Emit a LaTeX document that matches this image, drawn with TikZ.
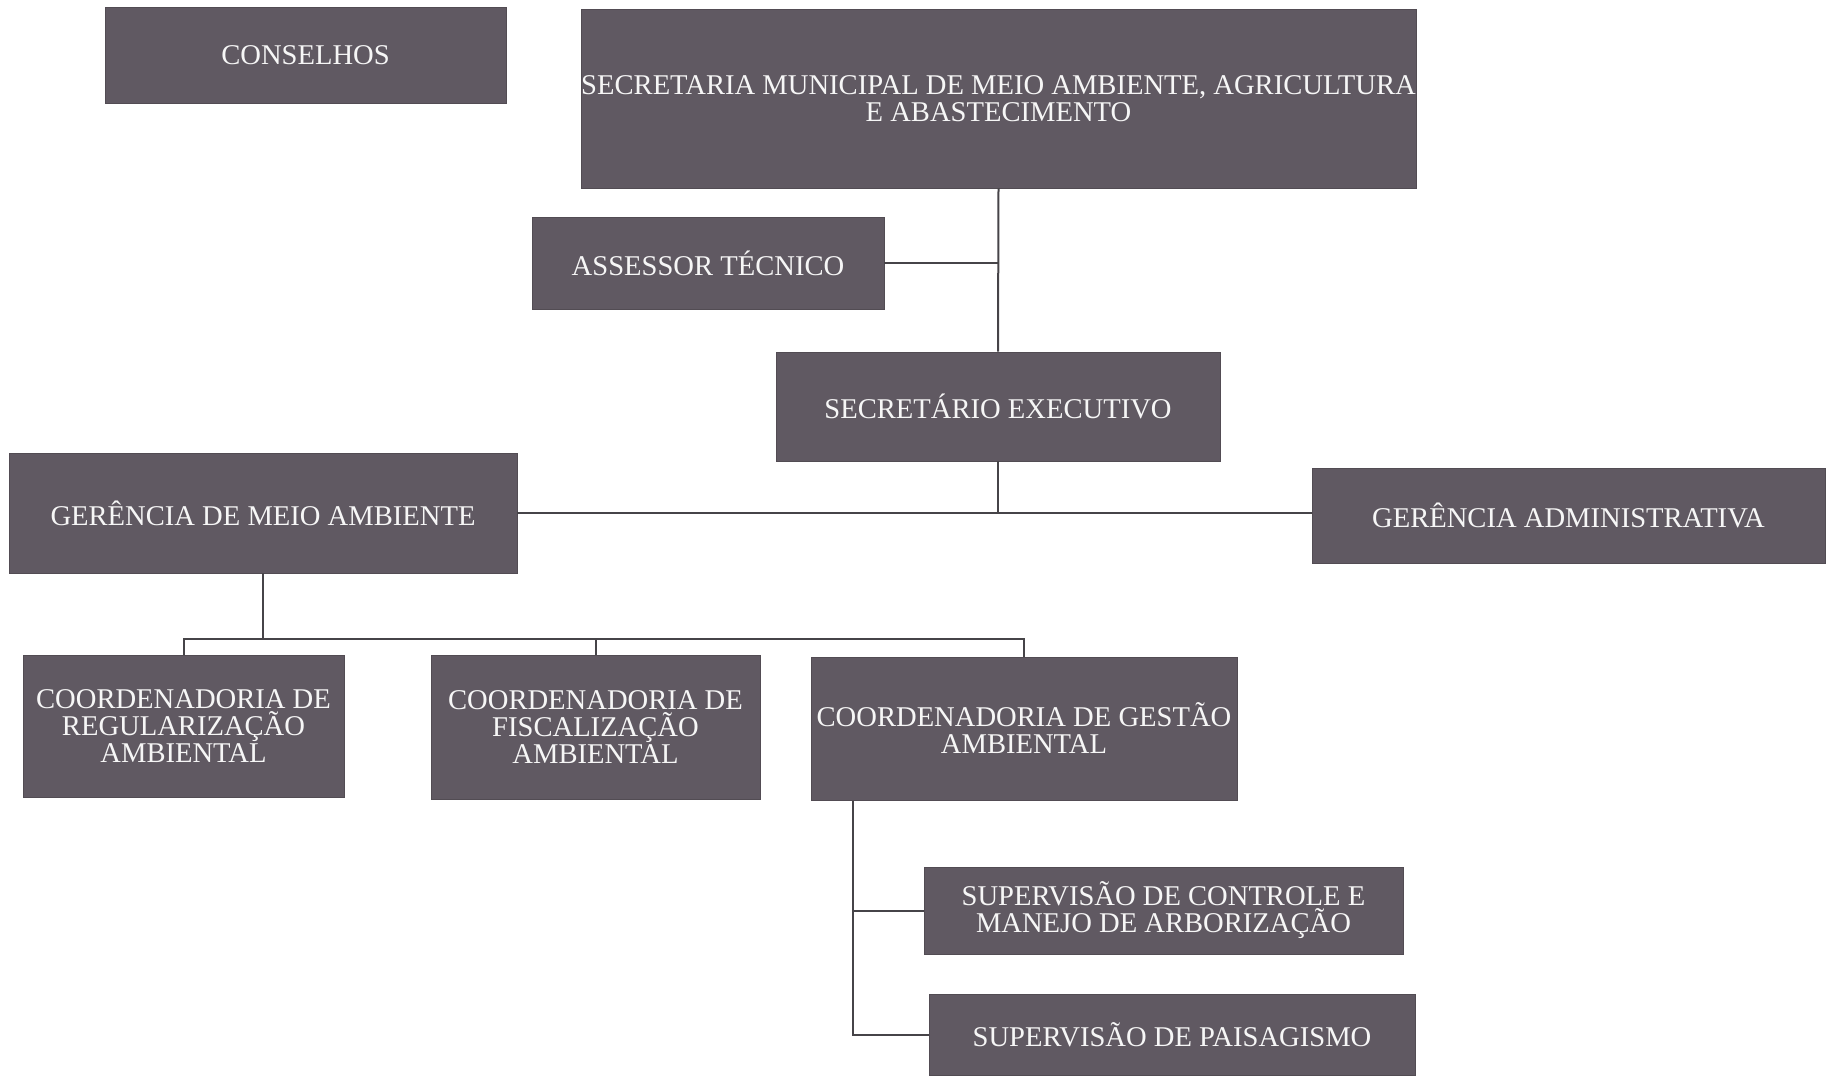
\documentclass[tikz,border=0pt]{standalone}
\usepackage{fontspec}
\setmainfont{Liberation Serif}
\usetikzlibrary{positioning}
\definecolor{fundocaixa}{RGB}{96,89,98}
\definecolor{corlinha}{RGB}{70,68,72}
\tikzset{
  caixa/.style={draw=fundocaixa!85!black, fill=fundocaixa, text=white!93!gray,
    align=center, inner sep=2pt, font=\fontsize{14.3}{13.5}\selectfont},
  liga/.style={draw=corlinha, line width=1pt},
}

\begin{document}
\begin{tikzpicture}[x=0.5pt, y=-0.5pt]
        % Moldura da figura (mesmas proporções da original)
        \useasboundingbox (0,0) rectangle (1827,1076);

        % Topo
        \node[caixa, minimum width=200.5pt, minimum height=48pt] (conselhos) at (305.5,55) {CONSELHOS};
        \node[caixa, minimum width=417.5pt, minimum height=89.5pt, inner xsep=0pt] (secretaria) at (998.5,98.5)
            {SECRETARIA MUNICIPAL DE MEIO AMBIENTE, AGRICULTURA\\E ABASTECIMENTO};
        \node[caixa, minimum width=176pt, minimum height=46pt] (assessor) at (708,263) {ASSESSOR TÉCNICO};
        \node[caixa, minimum width=222pt, minimum height=54.5pt] (executivo) at (998,406.5) {SECRETÁRIO EXECUTIVO};

        % Gerências
        \node[caixa, minimum width=254pt, minimum height=60pt] (germeio) at (263,513) {GERÊNCIA DE MEIO AMBIENTE};
        \node[caixa, minimum width=256.5pt, minimum height=47.5pt] (geradm) at (1568.5,515.5) {GERÊNCIA ADMINISTRATIVA};

        % Coordenadorias
        \node[caixa, minimum width=160.5pt, minimum height=71pt] (coordreg) at (183.5,726) {COORDENADORIA DE\\REGULARIZAÇÃO\\AMBIENTAL};
        \node[caixa, minimum width=164.5pt, minimum height=72pt] (coordfisc) at (595.5,727) {COORDENADORIA DE\\FISCALIZAÇÃO\\AMBIENTAL};
        \node[caixa, minimum width=213pt, minimum height=71.5pt] (coordgest) at (1024,728.5) {COORDENADORIA DE GESTÃO\\AMBIENTAL};

        % Supervisões
        \node[caixa, minimum width=239.5pt, minimum height=43.5pt] (supcontrole) at (1163.5,910.5) {SUPERVISÃO DE CONTROLE E\\MANEJO DE ARBORIZAÇÃO};
        \node[caixa, minimum width=243pt, minimum height=40.5pt] (suppaisag) at (1172,1034.5) {SUPERVISÃO DE PAISAGISMO};

        % Ligações
        \draw[liga] (secretaria.south) -- (executivo.north);
        \draw[liga] (assessor.east) -- (assessor.east -| executivo.north);

        \coordinate (n1) at (998,514);
        \draw[liga] (executivo.south) -- (n1);
        \draw[liga] (germeio.east) -- (germeio.east -| geradm.west);

        \coordinate (n2) at (263,638.5);
        \draw[liga] (germeio.south) -- (n2);
        \draw[liga] (coordreg.north) -- (coordreg.north |- n2) -- (coordgest.north |- n2) -- (coordgest.north);
        \draw[liga] (coordfisc.north) -- (coordfisc.north |- n2);

        \coordinate (n3) at (853,800.5);
        \draw[liga] (n3) |- (suppaisag.west);
        \draw[liga] (n3 |- supcontrole.west) -- (supcontrole.west);
    \end{tikzpicture}
\end{document}
